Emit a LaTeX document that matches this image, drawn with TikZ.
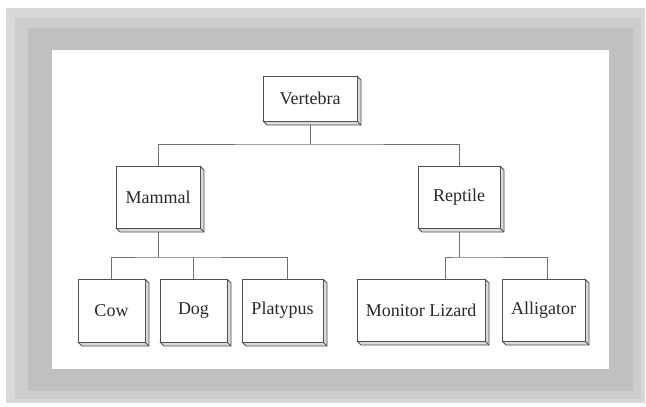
\documentclass[tikz,border=0pt]{standalone}
\usepackage{fontspec}
\setmainfont{Liberation Serif}
\definecolor{frameA}{HTML}{D8D8D8}
\definecolor{frameB}{HTML}{CDCDCD}
\definecolor{frameC}{HTML}{C0C0C0}
\definecolor{boxline}{HTML}{505050}
\definecolor{connline}{HTML}{707070}
\definecolor{sidefill}{HTML}{DADADA}
\definecolor{txt}{HTML}{282828}
\tikzset{
  tbox/.style={draw=boxline, fill=white, line width=0.9pt, inner sep=0pt, outer sep=0pt,
    font=\rmfamily\fontsize{18}{20}\selectfont, text=txt, minimum height=63pt},
  conn/.style={draw=connline, line width=1pt},
  side/.style={draw=boxline, fill=sidefill, line width=0.8pt, line join=round}
}
\newcommand\boxside[1]{%
  \draw[side] (#1.north east) -- ++(4pt,-4pt) -- ([shift={(4pt,-4pt)}]#1.south east)
    -- ([shift={(4pt,-4pt)}]#1.south west) -- (#1.south west) -- (#1.south east) -- cycle;
  \draw[side] (#1.south east) -- ++(4pt,-4pt);}
\begin{document}
\begin{tikzpicture}[x=1pt,y=-1pt]
\useasboundingbox (0,0) rectangle (646,407);
\fill[white] (0,0) rectangle (646,407);
% frame
\fill[frameA] (6,8) rectangle (645,403);
\fill[frameB] (15,18) rectangle (641,399);
\fill[frameC] (28,28) rectangle (633,391);
\fill[white] (52,50) rectangle (609,369);
% nodes
\node[tbox, minimum width=94pt, minimum height=45pt] (vert) at (310,98.5) {Vertebra};
\node[tbox, minimum width=84pt, minimum height=62pt] (mam) at (158,197) {Mammal};
\node[tbox, minimum width=82pt, minimum height=62pt] (rep) at (459,197) {Reptile};
\node[tbox, minimum width=67pt] (cow) at (111.5,310.5) {Cow};
\node[tbox, minimum width=67pt] (dog) at (193.5,310.5) {Dog};
\node[tbox, minimum width=81pt] (pla) at (282.5,310.5) {Platypus};
\node[tbox, minimum width=128pt, minimum height=62pt] (mon) at (421,310) {Monitor Lizard};
\node[tbox, minimum width=83pt, minimum height=62pt] (all) at (543.5,310) {Alligator};
\coordinate (j1) at (310,144);
\coordinate (j2) at (158,257);
\coordinate (j3) at (459,257);
% connectors
\draw[conn] (vert.south) -- (j1);
\draw[conn] (mam.north) |- (j1) -| (rep.north);
\draw[conn] (mam.south) -- (j2);
\draw[conn] (cow.north) |- (j2) -| ([xshift=5pt]pla.north);
\draw[conn] (dog.north) -- (dog.north |- j2);
\draw[conn] (rep.south) -- (j3);
\draw[conn] ([xshift=24pt]mon.north) |- (j3) -| ([xshift=4pt]all.north);
% 3D sides drawn over connector ends, then faces on top
\foreach \n in {vert,mam,rep,cow,dog,pla,mon,all}{\boxside{\n}}
\node[tbox, minimum width=94pt, minimum height=45pt] at (310,98.5) {Vertebra};
\node[tbox, minimum width=84pt, minimum height=62pt] at (158,197) {Mammal};
\node[tbox, minimum width=82pt, minimum height=62pt] at (459,197) {Reptile};
\node[tbox, minimum width=67pt] at (111.5,310.5) {Cow};
\node[tbox, minimum width=67pt] at (193.5,310.5) {Dog};
\node[tbox, minimum width=81pt] at (282.5,310.5) {Platypus};
\node[tbox, minimum width=128pt, minimum height=62pt] at (421,310) {Monitor Lizard};
\node[tbox, minimum width=83pt, minimum height=62pt] at (543.5,310) {Alligator};
\end{tikzpicture}
\end{document}
